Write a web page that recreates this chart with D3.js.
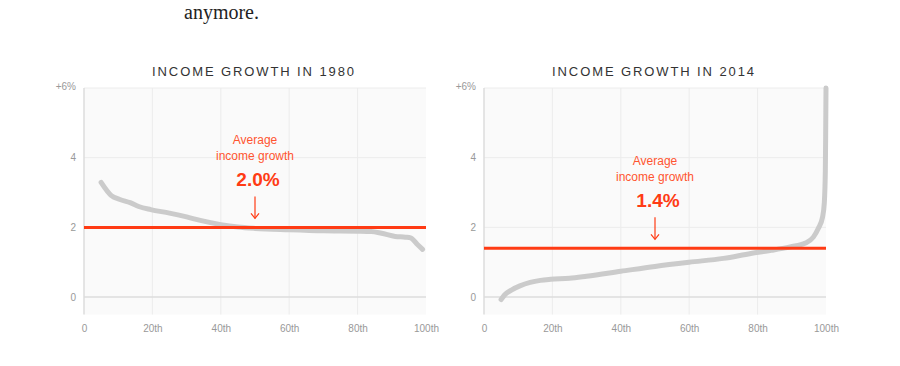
<!DOCTYPE html>
<html>
<head>
<meta charset="utf-8">
<script src="https://cdn.jsdelivr.net/npm/d3@7"></script>
<style>
  html, body { margin: 0; padding: 0; background: #fff; }
  svg { display: block; }
</style>
</head>
<body>
<svg id="chart" width="900" height="366"></svg>
<script>
// ---- data ----
const percentiles1980 = [5, 8, 10.5, 13.5, 16, 19.5, 25, 30, 34, 40, 45, 50, 60, 70, 80, 84, 87, 91, 94, 95.5, 97.5, 99];
const growth1980      = [3.29, 2.91, 2.8, 2.71, 2.6, 2.51, 2.41, 2.3, 2.2, 2.08, 2.01, 1.97, 1.93, 1.9, 1.89, 1.88, 1.83, 1.74, 1.72, 1.7, 1.51, 1.37];
const percentiles2014 = [5, 6, 8, 10.5, 13.5, 16.5, 19.5, 25, 30, 40, 50, 60, 70, 78, 84, 89.5, 94, 96.3, 97.7, 99, 99.5, 99.8, 99.9, 100];
const growth2014      = [-0.07, 0.06, 0.2, 0.32, 0.42, 0.48, 0.51, 0.54, 0.6, 0.74, 0.88, 1.0, 1.11, 1.25, 1.34, 1.44, 1.55, 1.72, 1.96, 2.3, 2.7, 3.6, 4.6, 6.0];
const averages = [2.0, 1.4];
const titles = ["INCOME GROWTH IN 1980", "INCOME GROWTH IN 2014"];
const xTickValues = [0, 20, 40, 60, 80, 100];
const xTickLabels = ["0", "20th", "40th", "60th", "80th", "100th"];
const yTickValues = [0, 2, 4, 6];
const yTickLabels = ["0", "2", "4", "+6%"];

const svg = d3.select("#chart");
const RED = "#ff3b14";

// intro text fragment
svg.append("text")
  .attr("x", 184).attr("y", 19)
  .attr("font-family", "Georgia, 'Liberation Serif', serif")
  .attr("font-size", 20)
  .attr("fill", "#222")
  .text("anymore.");

const panels = [
  { left: 84, right: 426, px: percentiles1980, gy: growth1980, avg: averages[0], title: titles[0] },
  { left: 484, right: 826, px: percentiles2014, gy: growth2014, avg: averages[1], title: titles[1] }
];

panels.forEach(p => {
  const x = d3.scaleLinear().domain([0, 100]).range([p.left, p.right]);
  const y = d3.scaleLinear().domain([-0.5, 6]).range([314.5, 88]);
  const g = svg.append("g");

  // background
  g.append("rect")
    .attr("x", x(0)).attr("y", y(6))
    .attr("width", x(100) - x(0)).attr("height", y(-0.5) - y(6))
    .attr("fill", "#fafafa");

  // vertical gridlines
  g.selectAll(".vg").data([20, 40, 60, 80]).enter().append("line")
    .attr("x1", d => x(d)).attr("x2", d => x(d))
    .attr("y1", y(6)).attr("y2", y(-0.5))
    .attr("stroke", "#ececec").attr("stroke-width", 1);

  // horizontal gridlines
  g.selectAll(".hg").data([2, 4, 6]).enter().append("line")
    .attr("x1", x(0)).attr("x2", x(100))
    .attr("y1", d => y(d)).attr("y2", d => y(d))
    .attr("stroke", "#ececec").attr("stroke-width", 1);

  // zero line
  g.append("line")
    .attr("x1", x(0)).attr("x2", x(100))
    .attr("y1", y(0)).attr("y2", y(0))
    .attr("stroke", "#dcdcdc").attr("stroke-width", 1.5);

  // left axis line
  g.append("line")
    .attr("x1", x(0)).attr("x2", x(0))
    .attr("y1", y(6)).attr("y2", y(-0.5))
    .attr("stroke", "#dcdcdc").attr("stroke-width", 1.5);

  // y axis labels
  const yAxis = d3.axisLeft(y).tickValues(yTickValues)
    .tickFormat((d, i) => yTickLabels[i]).tickSize(0).tickPadding(8);
  const ya = g.append("g").attr("transform", `translate(${x(0)},0)`).call(yAxis);
  ya.select(".domain").remove();
  ya.selectAll("text").attr("fill", "#999").attr("font-size", 10)
    .attr("font-family", "'Liberation Sans', Arial, sans-serif");
  ya.selectAll(".tick").filter(d => d === 6).select("text").attr("dy", "0.1em");

  // x axis labels
  const xAxis = d3.axisBottom(x).tickValues(xTickValues)
    .tickFormat((d, i) => xTickLabels[i]).tickSize(0).tickPadding(10);
  const xa = g.append("g").attr("transform", `translate(0,${y(-0.5)})`).call(xAxis);
  xa.select(".domain").remove();
  xa.selectAll("text").attr("fill", "#999").attr("font-size", 10)
    .attr("font-family", "'Liberation Sans', Arial, sans-serif");

  // title
  g.append("text")
    .attr("x", (x(0) + x(100)) / 2 - 1).attr("y", 76)
    .attr("text-anchor", "middle")
    .attr("font-family", "'Liberation Sans', Arial, sans-serif")
    .attr("font-size", 13)
    .attr("letter-spacing", "1.9px")
    .attr("fill", "#333")
    .text(p.title);

  // distribution line
  const line = d3.line().x((d, i) => x(p.px[i])).y(d => y(d)).curve(d3.curveMonotoneX);
  g.append("path")
    .datum(p.gy)
    .attr("d", line)
    .attr("fill", "none")
    .attr("stroke", "#cbcbcb")
    .attr("stroke-width", 5)
    .attr("stroke-linecap", "round")
    .attr("stroke-linejoin", "round");

  // average line
  g.append("line")
    .attr("x1", x(0)).attr("x2", x(100))
    .attr("y1", y(p.avg)).attr("y2", y(p.avg))
    .attr("stroke", RED).attr("stroke-width", 3);

  // annotation
  const ax = x(50);
  const ay = y(p.avg);
  g.append("text")
    .attr("x", ax).attr("y", ay - 83)
    .attr("text-anchor", "middle")
    .attr("font-family", "'Liberation Sans', Arial, sans-serif")
    .attr("font-size", 12).attr("fill", "#ff5530")
    .text("Average");
  g.append("text")
    .attr("x", ax).attr("y", ay - 67)
    .attr("text-anchor", "middle")
    .attr("font-family", "'Liberation Sans', Arial, sans-serif")
    .attr("font-size", 12).attr("fill", "#ff5530")
    .text("income growth");
  g.append("text")
    .attr("x", ax + 3).attr("y", ay - 41)
    .attr("text-anchor", "middle")
    .attr("font-family", "'Liberation Sans', Arial, sans-serif")
    .attr("font-size", 19).attr("font-weight", "bold").attr("fill", RED)
    .text(d3.format(".1f")(p.avg) + "%");
  // arrow
  g.append("line")
    .attr("x1", ax).attr("x2", ax)
    .attr("y1", ay - 31).attr("y2", ay - 9)
    .attr("stroke", RED).attr("stroke-width", 1.2);
  g.append("path")
    .attr("d", `M${ax - 4},${ay - 14} L${ax},${ay - 9} L${ax + 4},${ay - 14}`)
    .attr("fill", "none").attr("stroke", RED).attr("stroke-width", 1.2);
});
</script>
</body>
</html>
